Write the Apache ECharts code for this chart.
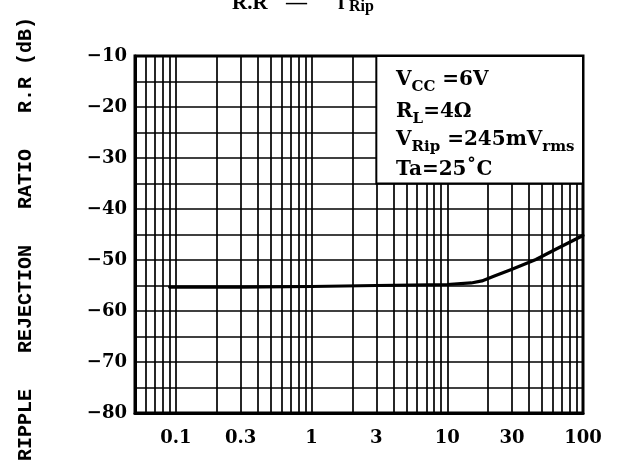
<!DOCTYPE html>
<html><head><meta charset="utf-8">
<script src="https://cdn.jsdelivr.net/npm/echarts@6/dist/echarts.min.js"></script>
<style>html,body{margin:0;padding:0;background:#fff}#c{width:619px;height:464px}</style>
</head><body><div id="c"></div>
<script>
// ---- data ----
const freq = [0.09, 0.3, 1, 3, 10, 15, 18, 22, 30, 45, 63, 100];          // kHz
const rippleRR = [-55.3, -55.3, -55.2, -55.0, -54.8, -54.5, -54.1, -53.2, -51.8, -49.9, -47.9, -45.2]; // dB
const xLabelValues = [0.1, 0.3, 1, 3, 10, 30, 100];
const xLabelText = ['0.1', '0.3', '1', '3', '10', '30', '100'];
const xGridValues = [0.05, 0.06, 0.07, 0.08, 0.09,
  0.1, 0.2, 0.3, 0.4, 0.5, 0.6, 0.7, 0.8, 0.9,
  1, 2, 3, 4, 5, 6, 7, 8, 9,
  10, 20, 30, 40, 50, 60, 70, 80, 90, 100];
const yLabelValues = [-10, -20, -30, -40, -50, -60, -70, -80];
const legendLines = [
  ['V', 'CC', ' =6V', ''],
  ['R', 'L', '=4\u03A9', ''],
  ['V', 'Rip', ' =245mV', 'rms'],
  ['Ta=25\u02DAC', '', '', '']
];
const yTitle = 'RIPPLE   REJECTION   RATIO   R.R (dB)';

const SERIF = 'DejaVu Serif';
const chart = echarts.init(document.getElementById('c'), null, {renderer: 'canvas'});

function nearestLabel(v) {
  let best = 0;
  for (let i = 1; i < xLabelValues.length; i++) {
    if (Math.abs(Math.log10(xLabelValues[i]) - Math.log10(v)) < Math.abs(Math.log10(xLabelValues[best]) - Math.log10(v))) best = i;
  }
  return xLabelText[best];
}

chart.setOption({
  animation: false,
  backgroundColor: '#fff',
  grid: {left: 135, right: 36, top: 56, bottom: 51, show: true, borderColor: '#000', borderWidth: 3, containLabel: false},
  xAxis: {
    type: 'log', logBase: 10, min: 0.05, max: 100,
    axisLine: {show: true, lineStyle: {color: '#000', width: 3}},
    axisTick: {show: false, customValues: xGridValues},
    axisLabel: {customValues: xLabelValues, formatter: nearestLabel, color: '#000', fontFamily: SERIF, fontWeight: 'bold', fontSize: 18, margin: 16, hideOverlap: false},
    splitLine: {show: true, lineStyle: {color: '#000', width: 1.7}},
    minorTick: {show: false}, minorSplitLine: {show: false}
  },
  yAxis: {
    type: 'value', min: -80, max: -10, interval: 5,
    axisLine: {show: true, lineStyle: {color: '#000', width: 3}},
    axisTick: {show: false},
    axisLabel: {customValues: yLabelValues, formatter: v => '\u2212' + Math.abs(v), color: '#000', fontFamily: SERIF, fontWeight: 'bold', fontSize: 18, margin: 8},
    splitLine: {show: true, lineStyle: {color: '#000', width: 1.7}}
  },
  series: [{
    type: 'line', data: freq.map((f, i) => [f, rippleRR[i]]),
    showSymbol: false, smooth: false,
    lineStyle: {color: '#000', width: 3.2, join: 'round', cap: 'round'}, z: 5
  }]
});

// legend box anchored to chart coords (3 .. 100, -35 .. -10)
const p0 = chart.convertToPixel({gridIndex: 0}, [3, -10]);
const p1 = chart.convertToPixel({gridIndex: 0}, [100, -35]);
const lineY = [80, 112, 140, 170];
const rich = {
  m: {fontSize: 20, fontFamily: SERIF, fontWeight: 'bold', fill: '#000'},
  s: {fontSize: 15, fontFamily: SERIF, fontWeight: 'bold', fill: '#000', padding: [14, 0, 0, 0]}
};
const graphics = [{
  type: 'rect', z: 100,
  shape: {x: p0[0], y: p0[1], width: p1[0] - p0[0], height: p1[1] - p0[1]},
  style: {fill: '#fff', stroke: '#000', lineWidth: 2}
}];
legendLines.forEach((ln, i) => {
  let t = '{m|' + ln[0] + '}';
  if (ln[1]) t += '{s|' + ln[1] + '}';
  if (ln[2]) t += '{m|' + ln[2] + '}';
  if (ln[3]) t += '{s|' + ln[3] + '}';
  graphics.push({type: 'text', z: 101, x: 396, y: lineY[i],
    style: {text: t, rich: rich, align: 'left', verticalAlign: 'middle', fill: '#000'}});
});
// y-axis title
graphics.push({type: 'text', z: 101, x: 26, y: 239, rotation: Math.PI / 2,
  style: {text: yTitle, font: 'bold 20px "Liberation Mono"', fill: '#000', align: 'center', verticalAlign: 'middle'}});
// top title (cut off at the top edge)
const tFont = 'bold 21px "Liberation Serif"';
graphics.push({type: 'text', z: 101, x: 232, y: 4, style: {text: 'R.R', font: tFont, fill: '#000', align: 'left', verticalAlign: 'middle'}});
graphics.push({type: 'text', z: 101, x: 286, y: 4, style: {text: '\u2014', font: tFont, fill: '#000', align: 'left', verticalAlign: 'middle'}});
graphics.push({type: 'text', z: 101, x: 338, y: 4, style: {text: 'f', font: tFont, fill: '#000', align: 'left', verticalAlign: 'middle'}});
graphics.push({type: 'text', z: 101, x: 349, y: 7, style: {text: 'Rip', font: 'bold 16px "Liberation Serif"', fill: '#000', align: 'left', verticalAlign: 'middle'}});
chart.setOption({graphic: graphics});
</script></body></html>
